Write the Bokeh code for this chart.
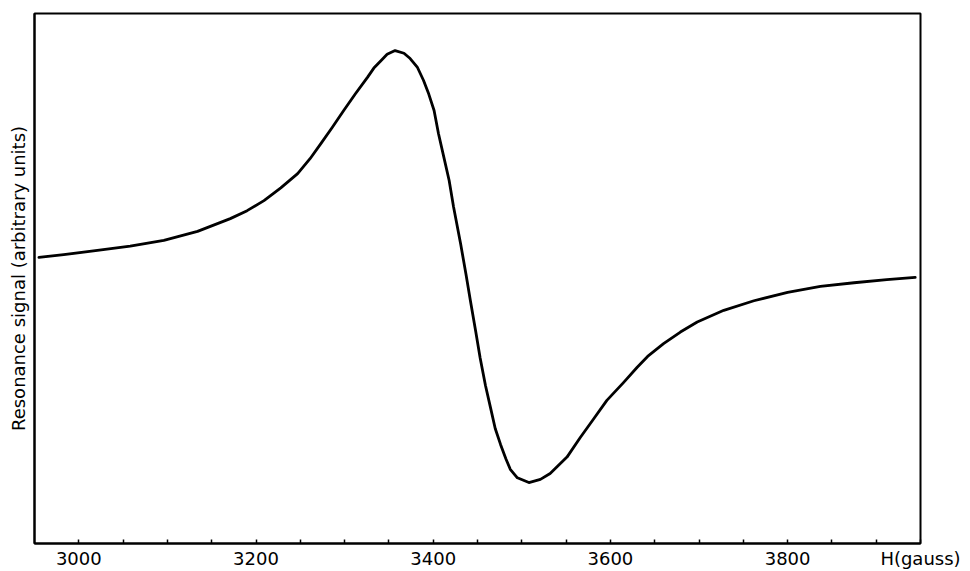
from bokeh.plotting import figure
from bokeh.models import Range1d, FixedTicker
from bokeh.embed import file_html
from bokeh.resources import INLINE

# Magnetic field H (gauss) and resonance signal (arbitrary units)
field_gauss = [2955, 2983, 3021, 3058, 3096, 3134, 3171, 3190, 3209, 3228,
               3247, 3261, 3273, 3286, 3299, 3312, 3326, 3333, 3341, 3348,
               3357, 3367, 3374, 3382, 3389, 3395, 3401, 3406, 3412, 3418,
               3423, 3431, 3437, 3442, 3448, 3453, 3459, 3465, 3470, 3476,
               3482, 3487, 3495, 3508, 3521, 3532, 3551, 3566, 3581, 3596,
               3615, 3630, 3642, 3660, 3679, 3698, 3728, 3762, 3800, 3837,
               3875, 3912, 3944]
signal = [4.0, 4.5, 5.3, 6.1, 7.2, 8.9, 11.3, 12.8, 14.7, 17.1,
          19.8, 22.6, 25.4, 28.5, 31.7, 34.8, 38.0, 39.7, 41.1, 42.3,
          43.0, 42.5, 41.5, 39.9, 37.4, 34.8, 31.7, 27.3, 22.9, 18.5,
          13.5, 6.5, 0.8, -4.2, -10.0, -15.0, -20.2, -24.6, -28.3, -31.3,
          -34.0, -36.0, -37.6, -38.5, -37.9, -36.8, -33.7, -30.0, -26.5, -23.0,
          -19.6, -16.8, -14.7, -12.3, -10.1, -8.2, -6.0, -4.2, -2.6, -1.5,
          -0.8, -0.2, 0.2]

tick_values = [3000, 3200, 3400, 3600, 3800, 3950]
tick_labels = ["3000", "3200", "3400", "3600", "3800", "H(gauss)"]
minor_ticks = [3050, 3100, 3150, 3250, 3300, 3350, 3450, 3500, 3550,
               3650, 3700, 3750, 3850, 3900]

FONT = "DejaVu Sans"

p = figure(width=970, height=571, output_backend="svg", toolbar_location=None,
           x_range=Range1d(2950, 3950), y_range=Range1d(-50, 50),
           min_border_left=34, min_border_right=50, min_border_top=13,
           min_border_bottom=28)
p.background_fill_color = "white"
p.border_fill_color = "white"
p.outline_line_color = "black"
p.outline_line_width = 2
p.xgrid.visible = False
p.ygrid.visible = False

p.line(field_gauss, signal, line_color="black", line_width=2.8,
       line_join="round", line_cap="round")

# x axis
xa = p.xaxis[0]
xa.ticker = FixedTicker(ticks=tick_values, minor_ticks=minor_ticks)
xa.major_label_overrides = {v: t for v, t in zip(tick_values, tick_labels)}
xa.axis_line_color = "black"
xa.axis_line_width = 2
xa.major_tick_in = 4
xa.major_tick_out = 0
xa.minor_tick_in = 4
xa.minor_tick_out = 0
xa.major_tick_line_width = 1.5
xa.minor_tick_line_width = 1.5
xa.major_label_standoff = 4
xa.major_label_text_font = FONT
xa.major_label_text_font_size = "18px"
xa.major_label_text_color = "black"

# y axis
ya = p.yaxis[0]
ya.ticker = FixedTicker(ticks=[])
ya.axis_line_color = "black"
ya.axis_line_width = 2
ya.major_tick_in = 0
ya.major_tick_out = 0
ya.minor_tick_in = 0
ya.minor_tick_out = 0
ya.major_label_text_font_size = "0px"
ya.axis_label = "Resonance signal (arbitrary units)"
ya.axis_label_text_font = FONT
ya.axis_label_text_font_size = "18px"
ya.axis_label_text_font_style = "normal"
ya.axis_label_text_color = "black"
ya.axis_label_standoff = 6

open("out.html", "w").write(file_html(p, INLINE))
